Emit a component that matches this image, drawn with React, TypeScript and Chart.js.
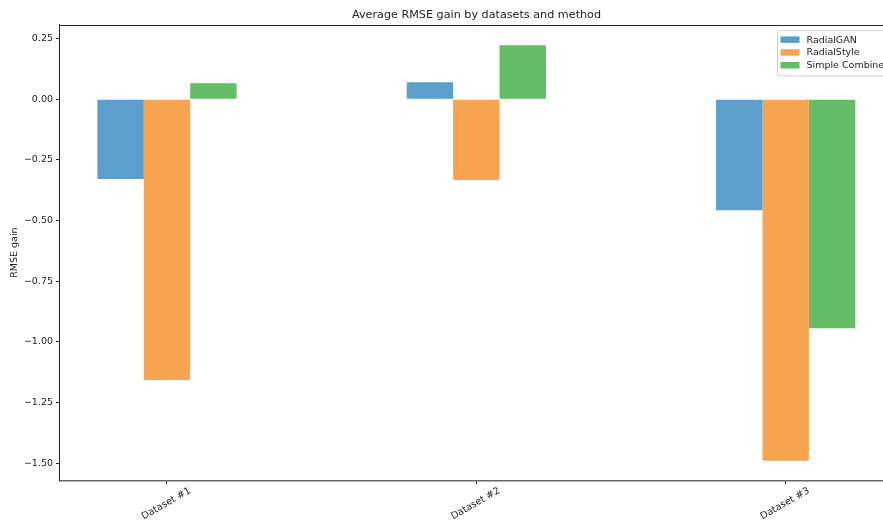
import React, { useEffect, useRef } from "react";
import { Chart, registerables } from "chart.js";

Chart.register(...registerables);

const categories = ["Dataset #1", "Dataset #2", "Dataset #3"];
const seriesNames = ["RadialGAN", "RadialStyle", "Simple Combine"];
const radialGAN = [-0.329, 0.07, -0.457];
const radialStyle = [-1.157, -0.333, -1.489];
const simpleCombine = [0.066, 0.222, -0.943];
const yTickValues = [-1.5, -1.25, -1.0, -0.75, -0.5, -0.25, 0.0, 0.25];
const yMin = -1.5706;
const yMax = 0.3067;
const xMin = -0.3475;
const xMax = 2.3475;

const colors = ["rgb(91,157,203)", "rgb(247,164,81)", "rgb(100,188,102)"];
const FONT = '"DejaVu Sans", sans-serif';
const TEXT = "#222";

const fmt = (v: number) => v.toFixed(2).replace("-", "\u2212");

const framePlugin = {
  id: "frameAndLegend",
  afterDraw(chart: any) {
    const ctx = chart.ctx as CanvasRenderingContext2D;
    const { left, right, top } = chart.chartArea;
    ctx.save();
    // top spine
    ctx.strokeStyle = "#222";
    ctx.lineWidth = 1;
    ctx.beginPath();
    ctx.moveTo(left, Math.round(top) + 0.5);
    ctx.lineTo(right, Math.round(top) + 0.5);
    ctx.stroke();

    // legend inside top-right
    ctx.font = "9.5px " + FONT;
    const ds = chart.data.datasets;
    const textW = Math.max(...ds.map((d: any) => ctx.measureText(d.label).width));
    const pad = 4;
    const patchW = 19;
    const patchH = 6.5;
    const gap = 7;
    const rowH = 12.8;
    const boxW = pad + patchW + gap + textW + pad;
    const boxH = pad + rowH * ds.length + pad - 1;
    const bx = right - 5 - boxW;
    const by = top + 5;
    ctx.fillStyle = "rgba(255,255,255,0.8)";
    ctx.strokeStyle = "#d0d0d0";
    ctx.lineWidth = 1;
    ctx.beginPath();
    (ctx as any).roundRect(Math.round(bx) + 0.5, Math.round(by) + 0.5, boxW, boxH, 2);
    ctx.fill();
    ctx.stroke();
    ds.forEach((d: any, i: number) => {
      const cy = by + pad + rowH * i + rowH / 2 - 0.5;
      ctx.fillStyle = d.backgroundColor;
      ctx.fillRect(bx + pad, cy - patchH / 2, patchW, patchH);
      ctx.fillStyle = TEXT;
      ctx.textBaseline = "middle";
      ctx.textAlign = "left";
      ctx.fillText(d.label, bx + pad + patchW + gap, cy + 0.5);
    });
    ctx.restore();
  },
};

export default function App() {
  const ref = useRef<HTMLCanvasElement>(null);
  useEffect(() => {
    if (!ref.current) return;
    const series = [radialGAN, radialStyle, simpleCombine];
    const chart = new Chart(ref.current, {
      type: "bar",
      data: {
        datasets: series.map((vals, s) => ({
          label: seriesNames[s],
          data: vals.map((v, i) => ({ x: i, y: v })),
          backgroundColor: colors[s],
          borderWidth: 0,
          categoryPercentage: 0.45,
          barPercentage: 1,
          xAxisID: "x",
          yAxisID: "y",
        })),
      },
      options: {
        animation: false,
        responsive: false,
        devicePixelRatio: 1,
        layout: { padding: 0 },
        plugins: {
          legend: { display: false },
          tooltip: { enabled: false },
          title: {
            display: true,
            text: "Average RMSE gain by datasets and method",
            color: TEXT,
            font: { family: FONT, size: 11.2, weight: "normal" },
            padding: { top: 8, bottom: 3.3 },
          },
        },
        scales: {
          x: {
            type: "linear",
            offset: false,
            min: xMin,
            max: xMax,
            afterBuildTicks: (s: any) => {
              s.ticks = categories.map((_, i) => ({ value: i }));
            },
            afterFit: (s: any) => {
              s.height = 43.5;
            },
            ticks: {
              autoSkip: false,
              minRotation: 30,
              maxRotation: 30,
              labelOffset: 23,
              padding: 1,
              color: TEXT,
              font: { family: FONT, size: 9.6 },
              callback: (v: any) => categories[Math.round(Number(v))] ?? "",
            },
            grid: { offset: false, drawOnChartArea: false, drawTicks: true, tickLength: 3.5, color: "#222" },
            border: { display: true, color: "#666", width: 1.5 },
          },
          y: {
            type: "linear",
            position: "left",
            min: yMin,
            max: yMax,
            afterBuildTicks: (s: any) => {
              s.ticks = yTickValues.map((v) => ({ value: v }));
            },
            afterFit: (s: any) => {
              s.width = 59.5;
            },
            ticks: {
              padding: 3,
              color: TEXT,
              font: { family: FONT, size: 9.5 },
              callback: (v: any) => fmt(Number(v)),
            },
            grid: { drawOnChartArea: false, drawTicks: true, tickLength: 3.5, color: "#222" },
            border: { display: true, color: "#222", width: 1 },
            title: {
              display: true,
              text: "RMSE gain",
              color: TEXT,
              font: { family: FONT, size: 9.5 },
              padding: { top: 9, bottom: 0 },
            },
          },
          yRight: {
            type: "linear",
            position: "right",
            display: true,
            grid: { display: false, drawTicks: false },
            ticks: { display: false },
            border: { display: false },
            afterFit: (s: any) => {
              s.width = 59.8;
            },
          },
        },
      },
      plugins: [framePlugin],
    } as any);
    return () => chart.destroy();
  }, []);
  return (
    <div style={{ position: "absolute", left: 0, top: 0, width: 883, height: 524, overflow: "hidden", background: "#fff" }}>
      <canvas ref={ref} width={953} height={524} style={{ width: 953, height: 524, display: "block" }} />
    </div>
  );
}
